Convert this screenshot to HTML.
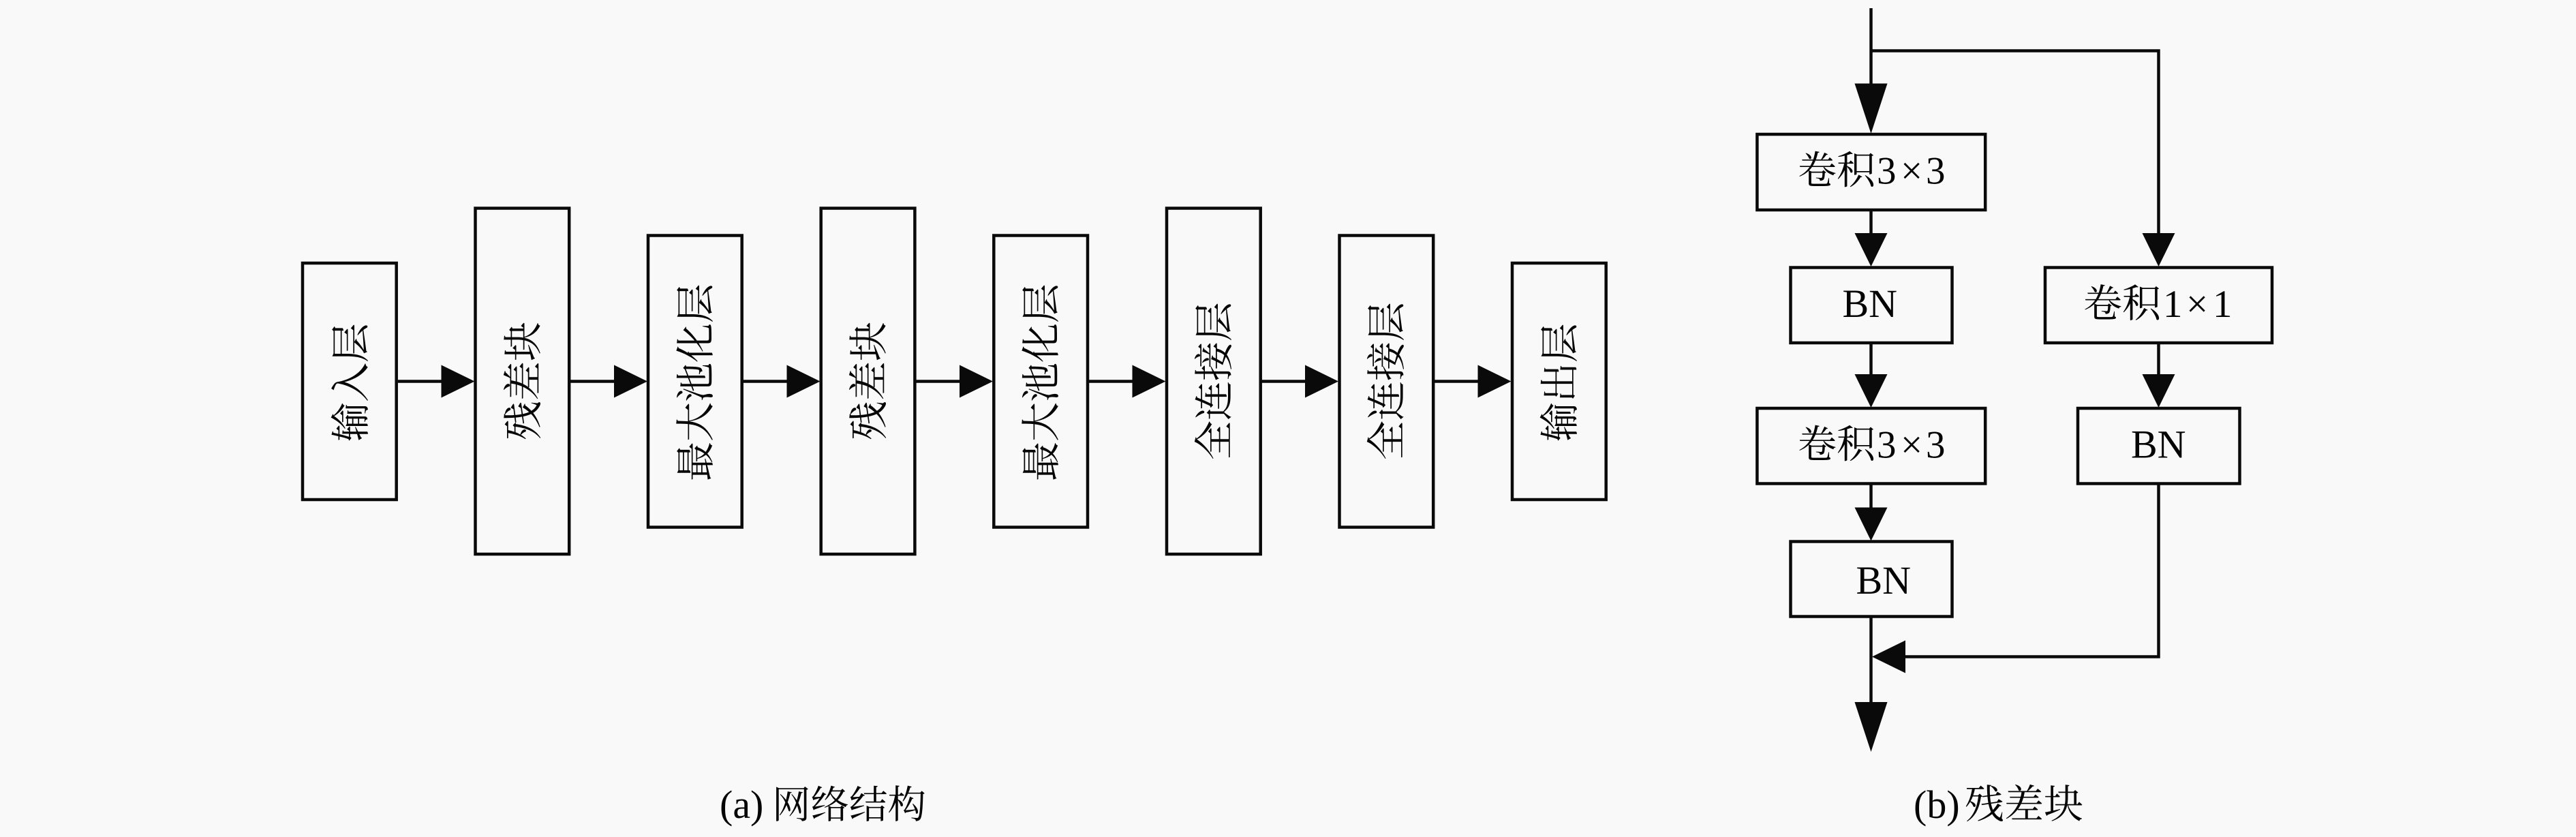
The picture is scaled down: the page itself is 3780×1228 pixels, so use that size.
<!DOCTYPE html>
<html lang="zh">
<head>
<meta charset="utf-8">
<title>网络结构与残差块</title>
<style>
html,body{margin:0;padding:0;background:#f9f9f9;width:3780px;height:1228px;overflow:hidden}
svg{display:block}
text{font-family:"Liberation Serif","Noto Serif CJK SC",serif;font-size:57px;fill:#050505}
.r{text-anchor:middle;font-size:58px}
.l{font-size:58px}
rect{fill:none;stroke:#0a0a0a;stroke-width:4.5}
line,polyline{fill:none;stroke:#0a0a0a;stroke-width:4.5}
polygon{fill:#0a0a0a;stroke:none}
</style>
</head>
<body>
<svg width="3780" height="1228" viewBox="0 0 3780 1228" xmlns="http://www.w3.org/2000/svg">
<rect x="0" y="0" width="3780" height="1228" style="fill:#f9f9f9;stroke:none"/>

<!-- (a) boxes -->
<rect x="444" y="386" width="137.7" height="347"/>
<rect x="697.5" y="305.5" width="137.7" height="507.5"/>
<rect x="951" y="345.5" width="137.7" height="428"/>
<rect x="1204.7" y="305.5" width="137.7" height="507.5"/>
<rect x="1458.3" y="345.5" width="137.7" height="428"/>
<rect x="1712" y="305.5" width="137.7" height="507.5"/>
<rect x="1965.5" y="345.5" width="137.7" height="428"/>
<rect x="2219" y="386" width="137.7" height="347"/>

<!-- (a) labels -->
<text class="r" transform="translate(514,561) rotate(-90)" y="21">输入层</text>
<text class="r" transform="translate(767,559) rotate(-90)" y="21">残差块</text>
<text class="r" transform="translate(1020,561) rotate(-90)" y="21">最大池化层</text>
<text class="r" transform="translate(1274,559) rotate(-90)" y="21">残差块</text>
<text class="r" transform="translate(1527,561) rotate(-90)" y="21">最大池化层</text>
<text class="r" transform="translate(1781,559) rotate(-90)" y="21">全连接层</text>
<text class="r" transform="translate(2034,559) rotate(-90)" y="21">全连接层</text>
<text class="r" transform="translate(2288,561) rotate(-90)" y="21">输出层</text>

<!-- (a) connectors -->
<line x1="584" y1="559.5" x2="650" y2="559.5"/><polygon points="647.5,535.5 696.5,559.5 647.5,583.5"/>
<line x1="837" y1="559.5" x2="904" y2="559.5"/><polygon points="901,535.5 950,559.5 901,583.5"/>
<line x1="1090" y1="559.5" x2="1157" y2="559.5"/><polygon points="1154.5,535.5 1203.5,559.5 1154.5,583.5"/>
<line x1="1344" y1="559.5" x2="1411" y2="559.5"/><polygon points="1408,535.5 1457,559.5 1408,583.5"/>
<line x1="1597" y1="559.5" x2="1664" y2="559.5"/><polygon points="1661.5,535.5 1710.5,559.5 1661.5,583.5"/>
<line x1="1851" y1="559.5" x2="1918" y2="559.5"/><polygon points="1915,535.5 1964,559.5 1915,583.5"/>
<line x1="2104" y1="559.5" x2="2171" y2="559.5"/><polygon points="2168.5,535.5 2217.5,559.5 2168.5,583.5"/>

<!-- (b) boxes -->
<rect x="2578.4" y="197" width="334.8" height="111"/>
<rect x="2627.5" y="392.5" width="237" height="110.5"/>
<rect x="3001" y="392.5" width="333" height="110.5"/>
<rect x="2578.4" y="599" width="334.8" height="110.5"/>
<rect x="3049" y="599" width="237.5" height="110.5"/>
<rect x="2627.5" y="794.5" width="237" height="110"/>

<!-- (b) labels -->
<text x="2638" y="269.5">卷积<tspan x="2754">3</tspan><tspan x="2789">×</tspan><tspan x="2826">3</tspan></text>
<text x="2703.5" y="465" class="l">BN</text>
<text x="3057" y="465">卷积<tspan x="3174">1</tspan><tspan x="3208">×</tspan><tspan x="3247">1</tspan></text>
<text x="2638" y="671.5">卷积<tspan x="2754">3</tspan><tspan x="2789">×</tspan><tspan x="2826">3</tspan></text>
<text x="3127" y="671.5" class="l">BN</text>
<text x="2723.5" y="871" class="l">BN</text>

<!-- (b) connectors -->
<line x1="2745.5" y1="12" x2="2745.5" y2="125"/>
<polyline points="2745.5,74.5 3167.5,74.5 3167.5,345"/>
<polygon points="2721.5,122.5 2769.5,122.5 2745.5,196"/>
<polygon points="3143.5,342 3191.5,342 3167.5,391"/>
<line x1="2745.5" y1="308" x2="2745.5" y2="345"/>
<polygon points="2721.5,342 2769.5,342 2745.5,391"/>
<line x1="2745.5" y1="503" x2="2745.5" y2="552"/>
<polygon points="2721.5,549 2769.5,549 2745.5,598"/>
<line x1="3167.5" y1="503" x2="3167.5" y2="552"/>
<polygon points="3143.5,549 3191.5,549 3167.5,598"/>
<line x1="2745.5" y1="710" x2="2745.5" y2="747"/>
<polygon points="2721.5,744.5 2769.5,744.5 2745.5,793.5"/>
<line x1="2745.5" y1="905" x2="2745.5" y2="1033"/>
<polygon points="2721.5,1030 2769.5,1030 2745.5,1103"/>
<polyline points="3167.5,710 3167.5,963.5 2793,963.5"/>
<polygon points="2796,939.5 2796,987.5 2747,963.5"/>

<!-- captions -->
<text x="1056" y="1200" class="l">(a)<tspan x="1133" style="font-size:56.5px">网络结构</tspan></text>
<text x="2808" y="1200" class="l">(b)<tspan x="2883">残差块</tspan></text>
</svg>
</body>
</html>
